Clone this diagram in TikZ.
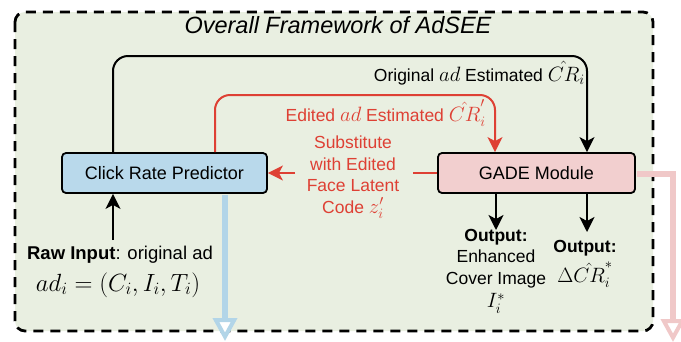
\documentclass[tikz,border=0pt]{standalone}
\usepackage{fontspec}
\setmainfont{Liberation Sans}
\usetikzlibrary{arrows.meta}
\definecolor{bgG}{RGB}{233,239,225}
\definecolor{boxB}{RGB}{185,217,235}
\definecolor{boxP}{RGB}{242,207,207}
\definecolor{redL}{RGB}{222,64,52}
\definecolor{fatBc}{RGB}{178,213,232}
\definecolor{fatPc}{RGB}{240,200,200}
\newcommand{\mth}[1]{{\fontsize{21}{24}\selectfont$#1$}}
\begin{document}
\begin{tikzpicture}[x=1pt,y=-1pt,
  modbox/.style={draw=black,line width=1.8pt,rounded corners=4pt,minimum height=40pt,inner sep=0pt,font=\fontsize{18}{21}\selectfont},
  lbl/.style={font=\fontsize{17.5}{21.5}\selectfont,inner sep=0pt},
  blk/.style={draw=black,line width=2pt,-{Stealth[length=15pt,width=15pt,inset=4pt]}},
  redarr/.style={draw=redL,line width=2pt,-{Stealth[length=15pt,width=15pt,inset=4pt]}},
  fatB/.style={draw=fatBc,line width=5.5pt,shorten <=1pt,-{Triangle[length=23pt,width=24pt,fill=white,line width=4pt]}},
  fatP/.style={draw=fatPc,line width=5.5pt,shorten <=1pt,-{Triangle[length=23pt,width=24pt,fill=white,line width=4pt]}},
  frame/.style={line width=2.8pt,dash pattern=on 10pt off 7pt,rounded corners=10pt,fill=bgG}
]
\useasboundingbox (0,0) rectangle (681,341);
\draw[frame] (15,12) rectangle (653,331);

\node[lbl,font=\fontsize{23.5}{27}\selectfont\itshape] (title) at (338,25) {Overall Framework of AdSEE};

\node[modbox,fill=boxB,minimum width=205pt] (crp) at (164.5,173) {Click Rate Predictor};
\node[modbox,fill=boxP,minimum width=197pt] (gade) at (536.5,173) {GADE Module};

\node[lbl,anchor=east] (orig) at (585,73) {Original \mth{ad} Estimated \mth{\hat{CR}_i}};
\node[lbl,anchor=east,text=redL] (edit) at (486,113) {Edited \mth{ad} Estimated \mth{\hat{CR}'_i}};
\node[lbl,anchor=north,text=redL,align=center] (sub) at (353,136) {Substitute\\with Edited\\Face Latent\\Code \mth{z'_i}};

\node[lbl,font=\fontsize{18.5}{22}\selectfont] (raw) at (120,255) {\textbf{Raw Input}: original ad};
\node[inner sep=0pt,font=\fontsize{24}{28}\selectfont] (rawm) at (118,285) {$ad_i=(C_i,I_i,T_i)$};

\node[lbl,anchor=north,align=center] (out1) at (496,229) {\textbf{Output:}\\Enhanced\\Cover Image\\[2pt]\mth{I_i^*}};
\node[lbl,anchor=north,align=center] (out2) at (585,240) {\textbf{Output:}\\[5pt]\mth{\Delta\hat{CR}_i^*}};

% black loop
\coordinate (k1) at (113,56);
\coordinate (k2) at (587,56);
\draw[blk,rounded corners=15pt] (crp.north -| k1) -- (k1) -- (k2) -- (gade.north -| k2);
% red loop
\coordinate (r1) at (215,95);
\coordinate (r2) at (495,95);
\draw[redarr,rounded corners=15pt] (crp.north -| r1) -- (r1) -- (r2) -- (gade.north -| r2);
% substitute arrow
\coordinate (s1) at (295,173);
\coordinate (s2) at (413,173);
\draw[redarr] (s1) -- (crp.east);
\draw[draw=redL,line width=2pt] (gade.west) -- (s2);
% raw input
\coordinate (rawtop) at (113,240);
\draw[blk] (rawtop) -- (crp.south -| rawtop);
% outputs
\coordinate (o1) at (496,230);
\coordinate (o2) at (587,232);
\draw[blk] (gade.south -| o1) -- (o1);
\draw[blk] (gade.south -| o2) -- (o2);
% fat arrows
\coordinate (bend) at (225,341);
\draw[fatB] (crp.south -| bend) -- (bend);
\coordinate (pc) at (673,174);
\coordinate (pend) at (673,342);
\draw[fatP] (gade.east |- pc) -- (pc) -- (pend);
\end{tikzpicture}
\end{document}
